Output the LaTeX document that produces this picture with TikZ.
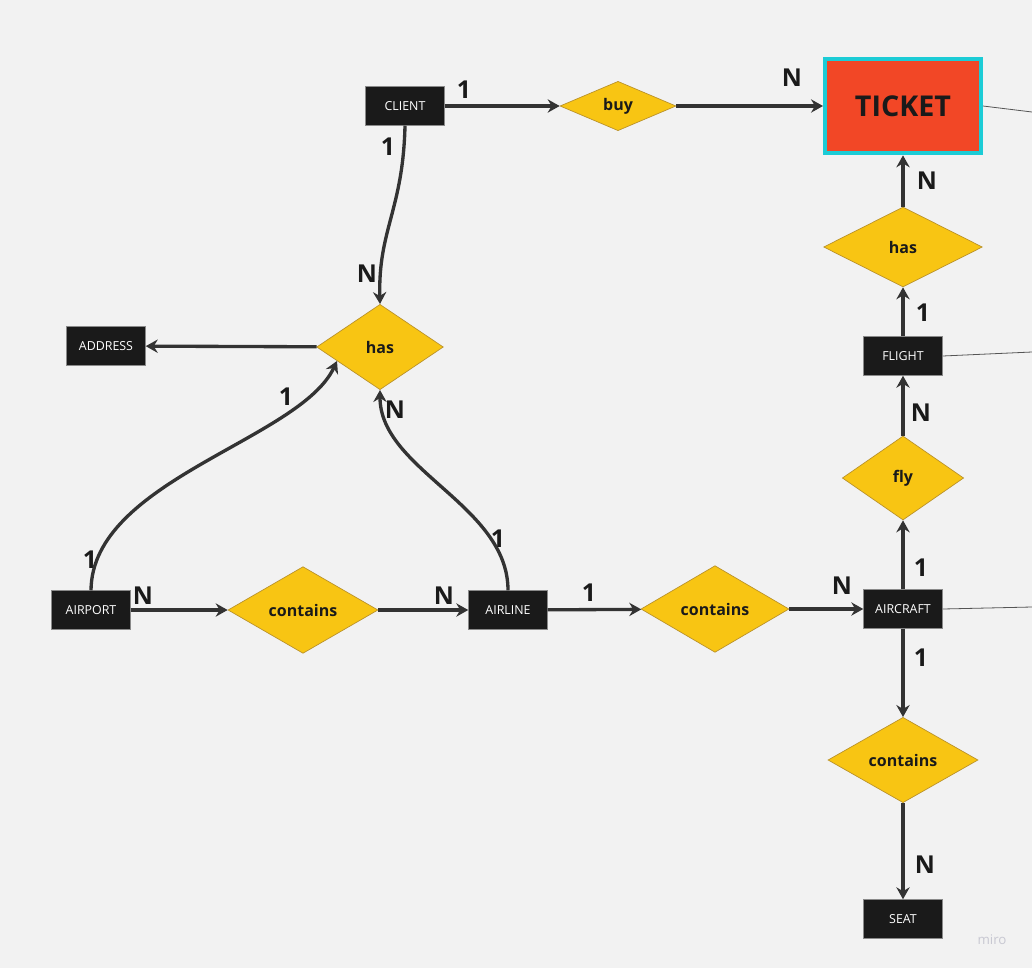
\documentclass[tikz,border=0pt]{standalone}
\usepackage{fontspec}
\setmainfont{Open Sans}
\usetikzlibrary{shapes.geometric,arrows.meta}
\definecolor{bg}{HTML}{F2F2F2}
\definecolor{linec}{HTML}{333333}
\definecolor{boxc}{HTML}{1A1A1A}
\definecolor{boxb}{HTML}{8A8A8A}
\definecolor{diaf}{HTML}{F8C513}
\definecolor{diab}{HTML}{B8902A}
\definecolor{tred}{HTML}{F24726}
\definecolor{tcyan}{HTML}{1CCCD6}
\definecolor{thin}{HTML}{555555}
\definecolor{wm}{HTML}{C8C8D2}
\begin{document}
\begin{tikzpicture}[x=0.75pt,y=-0.75pt,
  ent/.style={rectangle,fill=boxc,draw=boxb,line width=0.6pt,text=white,
    minimum width=59pt,minimum height=29pt,inner sep=0pt,font=\fontsize{9.3}{11}\selectfont},
  rel/.style={diamond,fill=diaf,draw=diab,line width=0.5pt,inner sep=0pt,
    text=boxc,font=\fontsize{12}{14}\selectfont\bfseries},
  card/.style={text=boxc,font=\fontsize{18.5}{20}\selectfont\bfseries,inner sep=0pt},
  conn/.style={draw=linec,line width=2.5pt,-{Stealth[length=9pt,width=10pt,inset=3pt]}},
  thinline/.style={draw=thin,line width=0.6pt}]
\fill[bg] (0,0) rectangle (1032,968);
\useasboundingbox (0,0) rectangle (1032,968);

% entities
\node[ent] (client) at (405,106) {CLIENT};
\node[ent] (address) at (106,346) {ADDRESS};
\node[ent] (airport) at (91,610) {AIRPORT};
\node[ent] (airline) at (508,610) {AIRLINE};
\node[ent] (aircraft) at (903,609) {AIRCRAFT};
\node[ent] (flight) at (903,356) {FLIGHT};
\node[ent] (seat) at (903,919) {SEAT};
\node[rectangle,fill=tred,draw=tcyan,line width=3pt,minimum width=117pt,minimum height=71pt,
  inner sep=0pt,text=boxc,font=\fontsize{21.5}{24}\selectfont\bfseries] (ticket) at (903,106) {TICKET};

% relationships
\node[rel,minimum width=87pt,minimum height=37pt] (buy) at (618,106) {buy};
\node[rel,minimum width=119pt,minimum height=60pt] (hasT) at (903,247) {has};
\node[rel,minimum width=95pt,minimum height=64pt] (hasL) at (380,347) {has};
\node[rel,minimum width=91pt,minimum height=63pt] (fly) at (903,478) {fly};
\node[rel,minimum width=112.5pt,minimum height=65pt] (contL) at (303,610) {contains};
\node[rel,minimum width=111pt,minimum height=65pt] (contM) at (715,609) {contains};
\node[rel,minimum width=112.5pt,minimum height=64pt] (contB) at (903,760) {contains};

% connectors
\draw[conn] (client) -- (buy);
\draw[conn] (buy) -- (ticket);
\draw[conn] (hasT) -- (ticket);
\draw[conn] (flight) -- (hasT);
\draw[conn] (fly) -- (flight);
\draw[conn] (aircraft) -- (fly);
\draw[conn] (aircraft) -- (contB);
\draw[conn] (contB) -- (seat);
\draw[conn] (airport) -- (contL);
\draw[conn] (contL) -- (airline);
\draw[conn] (airline) -- (contM);
\draw[conn] (contM) -- (aircraft);
\draw[conn] (hasL) -- (address);
\draw[conn] (client.south) .. controls (403,210) and (378,230) .. (hasL.north);
\draw[conn] (airport.north) .. controls (92,480) and (300,440) .. (hasL.198);
\draw[conn] (airline.north) .. controls (508,505) and (380,470) .. (hasL.south);

% lines leaving the frame
\coordinate (e1) at (1032,112);
\coordinate (e2) at (1032,352);
\coordinate (e3) at (1032,607);
\draw[thinline] (ticket.east) -- (e1);
\draw[thinline] (flight.east) -- (e2);
\draw[thinline] (aircraft.east) -- (e3);

% cardinalities
\node[card] (c1) at (464,90) {1};
\node[card] (c2) at (388,147) {1};
\node[card] (c3) at (792,78) {N};
\node[card] (c4) at (927,181) {N};
\node[card] (c5) at (923,313) {1};
\node[card] (c6) at (367,274) {N};
\node[card] (c7) at (286,397) {1};
\node[card] (c8) at (395,410) {N};
\node[card] (c9) at (921,413) {N};
\node[card] (c10) at (921,568) {1};
\node[card] (c11) at (921,658) {1};
\node[card] (c12) at (925,865) {N};
\node[card] (c13) at (90,560) {1};
\node[card] (c14) at (143,596) {N};
\node[card] (c15) at (444,596) {N};
\node[card] (c16) at (498,539) {1};
\node[card] (c17) at (589,593) {1};
\node[card] (c18) at (842,586) {N};

\node[text=wm,font=\fontsize{10}{12}\selectfont] (miro) at (992,940) {miro};
\end{tikzpicture}
\end{document}
